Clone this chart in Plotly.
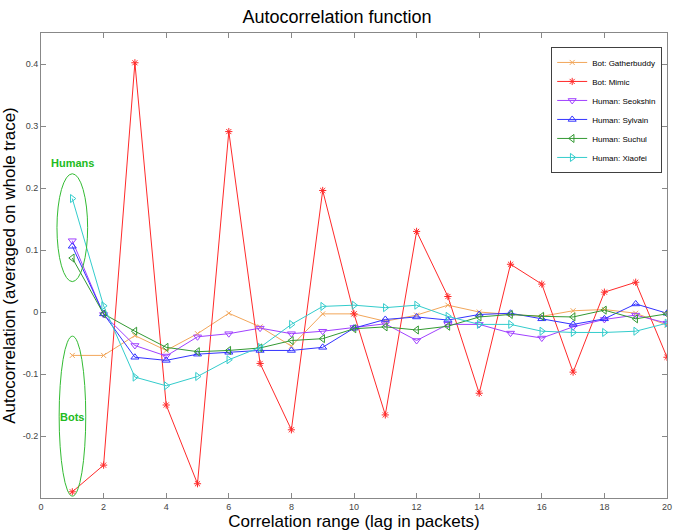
import plotly.graph_objects as go

lags = list(range(1, 21))

gatherbuddy = [-0.070, -0.070, -0.038, -0.062, -0.035, -0.002, -0.024, -0.055, -0.003, -0.003,
               -0.015, -0.005, 0.011, 0.000, -0.004, -0.007, 0.002, 0.004, -0.002, -0.021]
mimic = [-0.290, -0.247, 0.402, -0.150, -0.277, 0.291, -0.083, -0.190, 0.196, -0.003,
         -0.166, 0.130, 0.025, -0.131, 0.077, 0.045, -0.097, 0.032, 0.048, -0.073]
seokshin = [0.115, -0.004, -0.054, -0.071, -0.040, -0.035, -0.026, -0.035, -0.031, -0.025,
            -0.019, -0.046, -0.020, -0.020, -0.034, -0.042, -0.024, -0.012, -0.005, -0.018]
sylvain = [0.106, -0.003, -0.073, -0.078, -0.068, -0.065, -0.062, -0.062, -0.057, -0.026,
           -0.012, -0.008, -0.013, -0.004, -0.002, -0.011, -0.020, -0.011, 0.013, -0.002]
suchul = [0.087, -0.003, -0.031, -0.057, -0.064, -0.062, -0.058, -0.046, -0.043, -0.027,
          -0.024, -0.029, -0.023, -0.008, -0.004, -0.007, -0.008, 0.003, -0.011, -0.003]
xiaofei = [0.183, 0.010, -0.105, -0.119, -0.104, -0.077, -0.057, -0.020, 0.009, 0.011,
           0.007, 0.011, -0.007, -0.020, -0.020, -0.031, -0.033, -0.033, -0.031, -0.018]

series_names = ["Bot: Gatherbuddy", "Bot: Mimic", "Human: Seokshin", "Human: Sylvain",
                "Human: Suchul", "Human: Xiaofei"]
series_values = [gatherbuddy, mimic, seokshin, sylvain, suchul, xiaofei]
colors = ["#F2A65A", "#FF2A2A", "#A040FF", "#3333FF", "#339933", "#33CCCC"]
symbols = ["x-thin-open", "asterisk-open", "triangle-down-open", "triangle-up-open",
           "triangle-left-open", "triangle-right-open"]
sizes = [5, 6, 7, 7, 7, 7]

x_tickvals = list(range(0, 21, 2))
x_ticktext = [str(v) for v in x_tickvals]
y_tickvals = [-0.2, -0.1, 0, 0.1, 0.2, 0.3, 0.4]
y_ticktext = ["-0.2", "-0.1", "0", "0.1", "0.2", "0.3", "0.4"]

fig = go.Figure()
for name, vals, c, s, sz in zip(series_names, series_values, colors, symbols, sizes):
    fig.add_trace(go.Scatter(
        x=lags, y=vals, name=name, mode="lines+markers",
        line=dict(color=c, width=1),
        marker=dict(symbol=s, size=sz, color=c, line=dict(color=c, width=1)),
    ))

green = "#33BB33"
fig.add_shape(type="circle", xref="x", yref="y", x0=0.51, x1=1.49, y0=0.049, y1=0.223,
              line=dict(color=green, width=1))
fig.add_shape(type="circle", xref="x", yref="y", x0=0.58, x1=1.43, y0=-0.297, y1=-0.039,
              line=dict(color=green, width=1))
fig.add_annotation(x=1, y=0.240, xref="x", yref="y", text="<b>Humans</b>", showarrow=False,
                   font=dict(color="#22BB22", size=11, family="Liberation Sans"))
fig.add_annotation(x=1, y=-0.170, xref="x", yref="y", text="<b>Bots</b>", showarrow=False,
                   font=dict(color="#22BB22", size=11, family="Liberation Sans"))

axis_common = dict(showline=True, linecolor="#888888", linewidth=1, mirror="ticks",
                   ticks="inside", ticklen=5, tickcolor="#888888", showgrid=False,
                   zeroline=False, tickfont=dict(size=9, color="#444444"),
                   ticklabeloverflow="allow")

fig.update_layout(
    width=674, height=531,
    margin=dict(l=41, r=2, t=33, b=33),
    paper_bgcolor="white", plot_bgcolor="white",
    font=dict(family="Liberation Sans", color="#000000"),
    title=dict(text="Autocorrelation function", x=0.5, xanchor="center", y=0.968, yanchor="middle",
               font=dict(size=18)),
    xaxis=dict(range=[0, 20], tickvals=x_tickvals, ticktext=x_ticktext,
               title=dict(text="Correlation range (lag in packets)", font=dict(size=17), standoff=2),
               **axis_common),
    yaxis=dict(range=[-0.3, 0.45], tickvals=y_tickvals, ticktext=y_ticktext,
               title=dict(text="Autocorrelation (averaged on whole trace)", font=dict(size=17), standoff=4),
               **axis_common),
    legend=dict(x=0.815, y=0.97, xanchor="left", yanchor="top", bgcolor="white",
                bordercolor="#404040", borderwidth=1, font=dict(size=8), tracegroupgap=0,
                itemwidth=30),
    showlegend=True,
)

fig.write_html("out.html")
